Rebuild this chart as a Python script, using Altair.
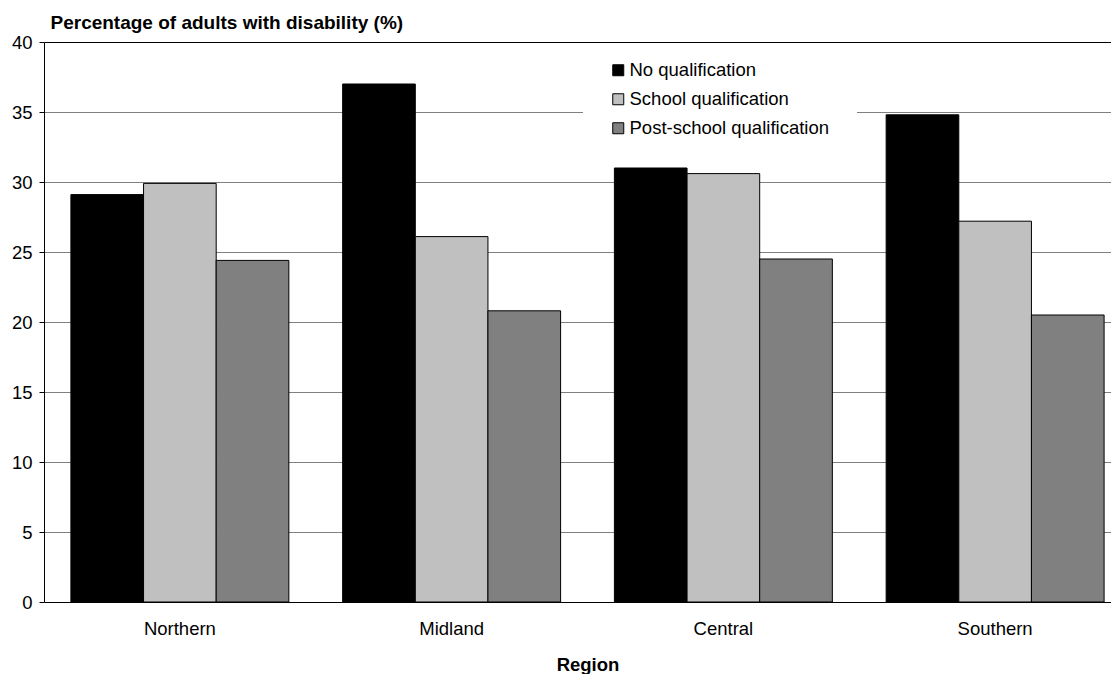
import altair as alt
import pandas as pd

regions = ["Northern", "Midland", "Central", "Southern"]
quals = ["No qualification", "School qualification", "Post-school qualification"]
no_qual = [29.1, 37.0, 31.0, 34.8]
school_qual = [29.9, 26.1, 30.6, 27.2]
post_school_qual = [24.4, 20.8, 24.5, 20.5]
colors = ["#000000", "#c0c0c0", "#808080"]
y_ticks = [0, 5, 10, 15, 20, 25, 30, 35, 40]

rows = []
for i, r in enumerate(regions):
    for q, series in zip(quals, [no_qual, school_qual, post_school_qual]):
        rows.append({"Region": r, "Qualification": q, "Value": series[i]})
df = pd.DataFrame(rows)

FONT = "Liberation Sans"

bars = alt.Chart(df).mark_bar(stroke="black", strokeWidth=1).encode(
    x=alt.X(
        "Region:N",
        sort=regions,
        scale=alt.Scale(range=[0, 1087], paddingInner=0.198, paddingOuter=0.099),
        axis=alt.Axis(
            title="Region",
            labelAngle=0,
            ticks=False,
            labelPadding=17,
            titlePadding=18,
            domainColor="black",
            grid=False,
            labelFont=FONT,
            labelFontSize=18.5,
            labelColor="black",
            titleFont=FONT,
            titleFontSize=18.5,
            titleFontWeight="bold",
            titleColor="black",
        ),
    ),
    xOffset=alt.XOffset("Qualification:N", sort=quals,
                        scale=alt.Scale(paddingInner=0, paddingOuter=0)),
    y=alt.Y(
        "Value:Q",
        scale=alt.Scale(domain=[0, 40], nice=False),
        axis=alt.Axis(
            values=y_ticks,
            title="Percentage of adults with disability (%)",
            titleAngle=0,
            titleAlign="left",
            titleBaseline="alphabetic",
            titleX=6,
            titleY=-14,
            tickSize=5,
            tickColor="black",
            labelPadding=7,
            domainColor="black",
            gridColor={"condition": {"test": "datum.value === 40", "value": "black"}, "value": "#808080"},
            gridWidth=1,
            labelFont=FONT,
            labelFontSize=18.5,
            labelColor="black",
            titleFont=FONT,
            titleFontSize=19,
            titleFontWeight="bold",
            titleColor="black",
        ),
    ),
    color=alt.Color(
        "Qualification:N",
        sort=quals,
        scale=alt.Scale(domain=quals, range=colors),
        legend=alt.Legend(
            title=None,
            orient="none",
            legendX=565,
            legendY=19,
            symbolType="square",
            symbolSize=121,
            symbolStrokeColor="black",
            symbolStrokeWidth=1,
            labelFontSize=18.5,
            labelFont=FONT,
            labelColor="black",
            labelOffset=2,
            labelLimit=400,
            rowPadding=10,
            padding=0,
        ),
    ),
)

legend_bg = alt.Chart(pd.DataFrame({"box": [0]})).mark_rect(fill="white").encode(
    x=alt.value(539), x2=alt.value(813), y=alt.value(8), y2=alt.value(108)
)

chart = alt.layer(bars, legend_bg).properties(
    width=1067,
    height=560,
    background="white",
    autosize=alt.AutoSizeParams(type="none"),
    padding={"left": 36, "top": 34, "right": 0, "bottom": 72},
).configure_view(stroke=None)

chart.save("out.html", embed_options={"renderer": "svg", "actions": False})
